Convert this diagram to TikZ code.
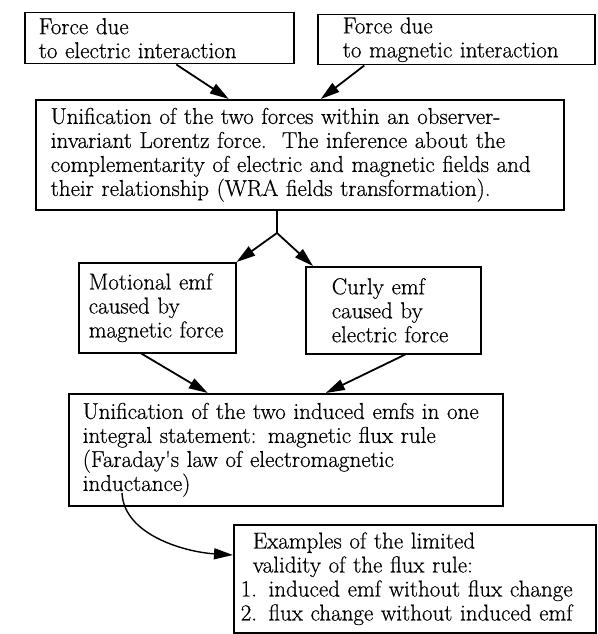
\documentclass[tikz,border=0pt]{standalone}
\usepackage{fontspec}
\setmainfont{Latin Modern Roman}[FakeBold=0.5]
\usepackage{tikz}
\usetikzlibrary{arrows.meta}

\tikzset{
  box/.style={draw, rectangle, line width=1.5pt, anchor=north west, align=left,
    inner ysep=2pt, font=\fontsize{23}{24}\selectfont},
  link/.style={line width=1.8pt},
  arrow/.style={link, -{Triangle[length=19pt,width=11pt]}}
}

\begin{document}
\begin{tikzpicture}[x=1pt, y=-1pt]
  \path[use as bounding box, fill=white] (0,0) rectangle (597,634);

  % Boxes
  \node[box, inner xsep=14pt, text width=241pt, minimum height=51pt] (elec) at (24,12)
    {Force due\\to electric interaction};
  \node[box, inner xsep=25pt, text width=227pt, minimum height=50pt] (magn) at (317,14)
    {Force due\\to magnetic interaction};
  \node[box, inner xsep=15pt, text width=498pt, minimum height=110pt] (lorentz) at (35,99)
    {Unification of the two forces within an observer-\\
     invariant Lorentz force.\ \ The inference about the\\
     complementarity of electric and magnetic fields and\\
     their relationship (WRA fields transformation).};
  \node[box, inner xsep=10pt, text width=137pt, minimum height=90pt] (motional) at (78,262)
    {Motional emf\\caused by\\magnetic force};
  \node[box, inner xsep=26pt, text width=123pt, minimum height=87pt] (curly) at (305,266)
    {Curly emf\\caused by\\electric force};
  \node[box, inner xsep=14pt, text width=406pt, minimum height=112pt] (faraday) at (68,393)
    {Unification of the two induced emfs in one\\
     integral statement: magnetic flux rule\\
     (Faraday\textquotesingle s law of electromagnetic\\
     inductance)};
  \node[box, inner xsep=7pt, text width=348pt, minimum height=108pt] (examples) at (233,524)
    {\hspace*{12pt}Examples of the limited\\
     \hspace*{12pt}validity of the flux rule:\\
     1. induced emf without flux change\\
     2. flux change without induced emf};

  \coordinate (split) at (277,233);
  \coordinate (tail) at (122,493);
  \coordinate (exin) at ([yshift=-31pt]examples.north west);

  % Arrows
  \draw[arrow] ([xshift=17pt]elec.south) -- ([xshift=-71pt]lorentz.north);
  \draw[arrow] ([xshift=-92pt]magn.south) -- ([xshift=21pt]lorentz.north);
  \draw[link] (split |- lorentz.south) -- (split);
  \draw[arrow] (split) -- (motional.north east);
  \draw[arrow] (split) -- ([xshift=8pt]curly.north west);
  \draw[arrow] ([xshift=-16pt]motional.south) -- ([xshift=-78pt]faraday.north);
  \draw[arrow] ([xshift=12pt]curly.south) -- ([xshift=40pt]faraday.north);
  \draw[arrow, line width=1.4pt] (tail) .. controls (124,535) and (185,552) .. (exin);
\end{tikzpicture}
\end{document}
